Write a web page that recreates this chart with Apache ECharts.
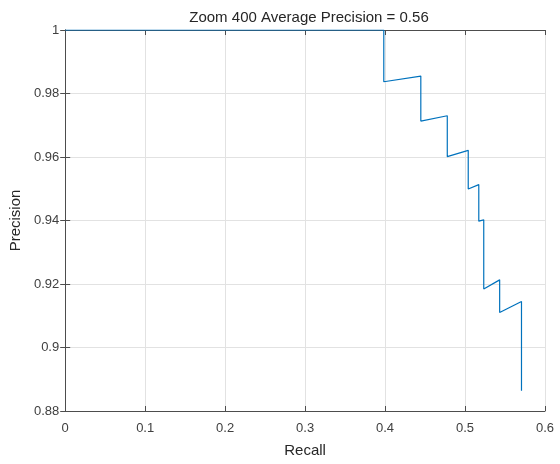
<!DOCTYPE html>
<html>
<head>
<meta charset="utf-8">
<script src="https://cdn.jsdelivr.net/npm/echarts@6/dist/echarts.min.js"></script>
<style>
  html, body { margin: 0; padding: 0; background: #fff; }
  #main { width: 560px; height: 464px; }
</style>
</head>
<body>
<div id="main"></div>
<script>
// precision / recall vertices
var recall = [0, 0.3984, 0.3984, 0.4447, 0.4447, 0.4778, 0.4778, 0.5040, 0.5040, 0.5172, 0.5172, 0.5234, 0.5234, 0.5433, 0.5433, 0.5706, 0.5706];
var precision = [1, 1, 0.9837, 0.9855, 0.9713, 0.9730, 0.9601, 0.9621, 0.9499, 0.9513, 0.9398, 0.9402, 0.9184, 0.9213, 0.9110, 0.9145, 0.8864];
var xTicks = [0, 0.6, 0.1];
var yTicks = [0.88, 1, 0.02];

var axisColor = '#4d4d4d';
var textColor = '#404040';
var gridColor = '#e2e2e2';
var font = 'Liberation Sans';

var points = [];
for (var i = 0; i < recall.length; i++) {
	points.push([recall[i], precision[i]]);
}

function fmt(v) {
	return String(+v.toFixed(2));
}

var myChart = echarts.init(document.getElementById('main'));
var option = {
	animation : false,
	title : {
		text : 'Zoom 400 Average Precision = 0.56',
		left : 304,
		top : 5,
		textAlign : 'center',
		textStyle : {
			color : '#262626',
			fontFamily : font,
			fontWeight : 'normal',
			fontSize : 15
		}
	},
	grid : {
		left : 62,
		right : 15,
		top : 30,
		bottom : 53
	},
	xAxis : [ {
		type : 'value',
		min : xTicks[0],
		max : xTicks[1],
		interval : xTicks[2],
		name : 'Recall',
		nameLocation : 'middle',
		nameGap : 32,
		nameTextStyle : { color : '#262626', fontFamily : font, fontSize : 15 },
		axisLine : { show : true, lineStyle : { color : axisColor, width : 1 } },
		axisTick : { show : true, inside : true, length : 5, lineStyle : { color : axisColor } },
		axisLabel : { color : textColor, fontFamily : font, fontSize : 13, margin : 11, formatter : fmt },
		splitLine : { show : true, lineStyle : { color : gridColor, width : 1 } }
	}, {
		type : 'value',
		position : 'top',
		min : xTicks[0],
		max : xTicks[1],
		interval : xTicks[2],
		axisLine : { show : true, lineStyle : { color : axisColor, width : 1 } },
		axisTick : { show : true, inside : true, length : 5, lineStyle : { color : axisColor } },
		axisLabel : { show : false },
		splitLine : { show : false }
	} ],
	yAxis : [ {
		type : 'value',
		min : yTicks[0],
		max : yTicks[1],
		interval : yTicks[2],
		name : 'Precision',
		nameLocation : 'middle',
		nameGap : 41,
		nameTextStyle : { color : '#262626', fontFamily : font, fontSize : 15 },
		axisLine : { show : true, lineStyle : { color : axisColor, width : 1 } },
		axisTick : { show : true, inside : true, length : 5, lineStyle : { color : axisColor } },
		axisLabel : { color : textColor, fontFamily : font, fontSize : 13, margin : 6, formatter : fmt },
		splitLine : { show : true, lineStyle : { color : gridColor, width : 1 } }
	}, {
		type : 'value',
		position : 'right',
		min : yTicks[0],
		max : yTicks[1],
		interval : yTicks[2],
		axisLine : { show : true, lineStyle : { color : axisColor, width : 1 } },
		axisTick : { show : true, inside : true, length : 5, lineStyle : { color : axisColor } },
		axisLabel : { show : false },
		splitLine : { show : false }
	} ],
	series : [ {
		type : 'line',
		data : points,
		showSymbol : false,
		lineStyle : { color : '#0072BD', width : 1.2 },
		z : 3
	} ]
};

myChart.setOption(option);
</script>
</body>
</html>
